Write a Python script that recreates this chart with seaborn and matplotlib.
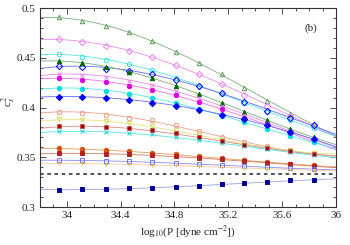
import numpy as np
import pandas as pd
import matplotlib
matplotlib.use('Agg')
import matplotlib.pyplot as plt
from matplotlib.ticker import MultipleLocator
import seaborn as sns

# pressure grid (log10 P) where the markers sit
log_p = [33.94, 34.11, 34.29, 34.46, 34.63, 34.81, 34.98, 35.15, 35.32, 35.49, 35.66, 35.84]

# c_s^2, one list per curve
green_open = [0.491, 0.487, 0.482, 0.476, 0.467, 0.456, 0.445, 0.434, 0.420, 0.407, 0.394, 0.383]
violet_open = [0.469, 0.466, 0.462, 0.457, 0.451, 0.443, 0.434, 0.424, 0.413, 0.402, 0.392, 0.381]
cyan_open = [0.454, 0.451, 0.448, 0.444, 0.438, 0.430, 0.422, 0.414, 0.405, 0.396, 0.387, 0.379]
blue_open = [0.442, 0.441, 0.439, 0.437, 0.434, 0.428, 0.422, 0.415, 0.406, 0.397, 0.389, 0.382]
green_fill = [0.447, 0.445, 0.441, 0.436, 0.430, 0.422, 0.414, 0.405, 0.396, 0.387, 0.378, 0.370]
violet_x = [0.434, 0.433, 0.431, 0.427, 0.423, 0.417, 0.410, 0.402, 0.393, 0.384, 0.376, 0.368]
magenta_fill = [0.430, 0.428, 0.426, 0.422, 0.418, 0.413, 0.406, 0.399, 0.390, 0.382, 0.374, 0.366]
cyan_fill = [0.420, 0.419, 0.417, 0.414, 0.410, 0.405, 0.399, 0.392, 0.385, 0.378, 0.371, 0.365]
blue_fill = [0.411, 0.411, 0.410, 0.408, 0.405, 0.402, 0.398, 0.393, 0.388, 0.382, 0.375, 0.368]
salmon_open = [0.396, 0.395, 0.393, 0.390, 0.387, 0.382, 0.376, 0.370, 0.365, 0.361, 0.357, 0.353]
yellow_tri = [0.388, 0.387, 0.386, 0.384, 0.381, 0.377, 0.372, 0.367, 0.363, 0.360, 0.357, 0.354]
brown_sq = [0.381, 0.381, 0.380, 0.379, 0.377, 0.374, 0.370, 0.366, 0.362, 0.359, 0.356, 0.353]
cyan_x = [0.376, 0.376, 0.375, 0.374, 0.373, 0.370, 0.367, 0.364, 0.361, 0.358, 0.355, 0.352]
orange_fill = [0.359, 0.358, 0.357, 0.356, 0.354, 0.353, 0.351, 0.349, 0.347, 0.345, 0.343, 0.342]
red_sq = [0.354, 0.354, 0.353, 0.353, 0.352, 0.351, 0.349, 0.348, 0.346, 0.344, 0.343, 0.341]
blue_sq = [0.347, 0.347, 0.346, 0.346, 0.345, 0.344, 0.343, 0.342, 0.341, 0.340, 0.339, 0.338]
yellow_plus = [0.344, 0.344, 0.343, 0.343, 0.342, 0.342, 0.341, 0.340, 0.339, 0.338, 0.338, 0.337]
navy_sq = [0.317, 0.318, 0.318, 0.319, 0.319, 0.320, 0.321, 0.323, 0.324, 0.325, 0.327, 0.327]

conformal = 1 / 3

# (values, line colour, marker, marker colour, filled)
curves = [
    (green_open, '#7ab07a', '^', '#5a9a5a', False),
    (violet_open, '#ee8aee', 'D', '#ee82ee', False),
    (cyan_open, '#55e5e5', 'o', '#33e0e0', False),
    (blue_open, '#6a6aff', 'D', '#0000ff', False),
    (green_fill, '#7ab07a', '^', '#006400', True),
    (violet_x, '#ee8aee', 'x', '#ee82ee', False),
    (magenta_fill, '#ee70ee', 'o', '#dd00dd', True),
    (cyan_fill, '#55e5e5', 'o', '#00dddd', True),
    (blue_fill, '#6a6aff', 'D', '#0000ff', True),
    (salmon_open, '#eda088', 'o', '#eb9a80', False),
    (yellow_tri, '#e4e47a', 'v', '#d8d860', False),
    (brown_sq, '#d88888', 's', '#c06060', False),
    (cyan_x, '#55e5e5', 'x', '#22d0d0', False),
    (orange_fill, '#e49a66', 'o', '#cc5510', True),
    (red_sq, '#d87a5a', 's', '#b22222', True),
    (blue_sq, '#8a8aee', 's', '#7777ee', False),
    (yellow_plus, '#f4cc98', '+', '#f0b860', False),
    (navy_sq, '#a0a0e0', 's', '#000099', True),
]

sns.set_theme(style='ticks')
plt.rcParams['font.family'] = ['Liberation Serif', 'DejaVu Serif']
plt.rcParams['mathtext.fontset'] = 'stix'

fig = plt.figure(figsize=(3.5, 2.45), dpi=100)
ax = fig.add_axes([0.114, 0.155, 0.846, 0.812])

x_fine = np.linspace(33.8, 36.0, 120)
for vals, lc, mk, mc, filled in curves:
    coef = np.polyfit(log_p, vals, 3)
    fit = pd.DataFrame({'x': x_fine, 'y': np.polyval(coef, x_fine)})
    sns.lineplot(data=fit, x='x', y='y', ax=ax, color=lc, lw=0.6, zorder=2)
    ax.plot(log_p, vals, ls='none', marker=mk, ms=3.2, mew=0.7,
            mec=mc, mfc=mc if filled else 'none', zorder=3)
    if mc == '#c06060':
        ax.plot(log_p, vals, ls='none', marker='s', ms=1.4, color='#aa0000', zorder=4)

ax.axhline(conformal, color='#444444', lw=1.3, ls=(0, (2, 2)), zorder=2)

ax.set_xlim(33.8, 36.0)
ax.set_ylim(0.3, 0.5)
ax.xaxis.set_minor_locator(MultipleLocator(0.1))
ax.yaxis.set_minor_locator(MultipleLocator(0.01))
ax.set_xticks([34, 34.4, 34.8, 35.2, 35.6, 36])
ax.set_xticklabels(['34', '34.4', '34.8', '35.2', '35.6', '36'])
ax.set_yticks([0.3, 0.35, 0.4, 0.45, 0.5])
ax.set_yticklabels(['0.3', '0.35', '0.4', '0.45', '0.5'])
ax.tick_params(which='both', direction='in', top=True, right=True, labelsize=8,
               color='#333333', width=0.6)
ax.tick_params(which='major', length=4, pad=3)
ax.tick_params(which='minor', length=2)
for s in ax.spines.values():
    s.set_linewidth(0.8)
    s.set_color('#333333')

ax.set_xlabel(r'log$_{10}$(P [dyne cm$^{-2}$])', fontsize=8, labelpad=2)
ax.set_ylabel(r'c$_s^2$', fontsize=8)
ax.yaxis.set_label_coords(-0.075, 0.53)
ax.text(0.935, 0.885, '(b)', transform=ax.transAxes, fontsize=8, ha='right')

fig.savefig('out.png', dpi=100)
